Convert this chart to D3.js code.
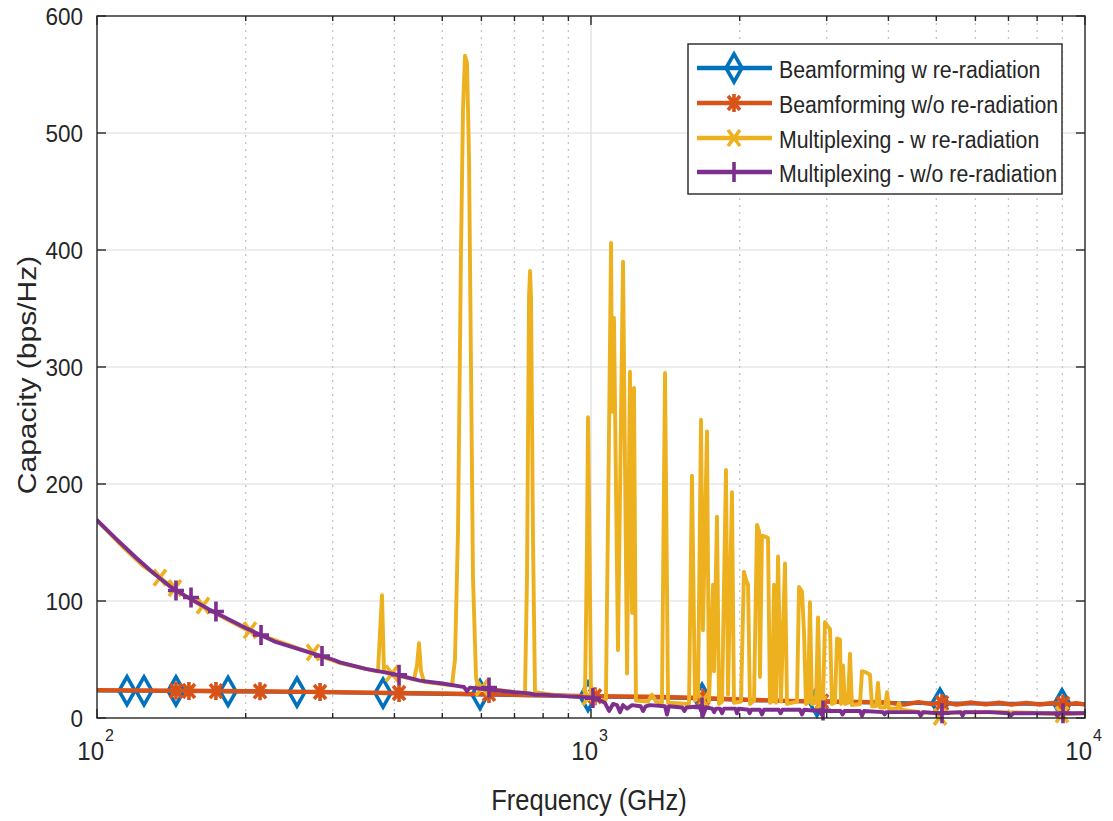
<!DOCTYPE html>
<html><head><meta charset="utf-8">
<script src="https://cdn.jsdelivr.net/npm/d3@7"></script>
<style>body{margin:0;background:#fff}text{font-family:"Liberation Sans",Arial,sans-serif;fill:#262626}</style>
</head><body>
<svg id="c" width="1113" height="821"></svg>
<script>
// ---------- data ----------
const seriesNames = ["Beamforming w re-radiation","Beamforming w/o re-radiation","Multiplexing - w re-radiation","Multiplexing - w/o re-radiation"];
const seriesColors = ["#0072BD","#D95319","#EDB120","#7E2F8E"];
const yTicks = [0,100,200,300,400,500,600];
const xMajorTicks = [100,1000,10000];
const xTickExponents = ["2","3","4"];
const xMinorTicks = [200,300,400,500,600,700,800,900,2000,3000,4000,5000,6000,7000,8000,9000];

// [frequency (GHz), capacity (bps/Hz)]
const beamWith = [[100,23.4],[150,23.0],[200,22.6],[300,21.9],[400,21.2],[600,20.0],[800,19.2],[1000,18.4],[1500,17.3],[2000,15.6],[2500,14.4],[3000,13.9],[4000,12.9],[5000,12.5],[7000,12.2],[10000,11.9]];
const beamWithMarkers = [[115.0,23.3],[124.5,23.2],[144.5,23.1],[184.2,22.7],[254.0,22.2],[379.3,21.3],[596.2,20.0],[986.2,18.4],[1678,16.8],[2867,14.0],[5087,12.6],[8984,12.0]];

const beamWithout = [[100,23.8],[150,23.3],[200,22.9],[300,22.1],[400,21.4],[500,20.9],[700,19.9],[1000,18.7],[1300,18.1],[1600,17.4],[2000,15.8],[2500,14.6],[3000,14.1],[3700,13.6],[4000,13.2],[4300,11.4],[4600,13.6],[4900,11.8],[5200,13.4],[5500,11.5],[5900,13.2],[6300,11.6],[6700,13.0],[7100,11.4],[7600,12.9],[8100,11.5],[8600,12.8],[9200,11.6],[9600,12.6],[10000,11.5]];
const beamWithoutMarkers = [[144.5,23.2],[153.5,23.1],[174.1,23.0],[213.8,22.8],[282.8,22.2],[408.7,21.4],[621.6,20.6],[1019,18.6],[1685,17.2],[2935,14.1],[5135,12.8],[9026,12.2]];

const multiWith = [[100,169],[112.9,146],[123.9,130],[134.1,120],[143.8,110],[163.9,95],[204.0,74],[273.7,55],[310.4,47],[367.1,40],[370.5,40],[377.5,105],[381.0,40],[395.5,37],[438.3,33],[444.4,45],[448.6,64],[452.8,40],[459.2,31],[523.2,28],[530.5,50],[538.0,160],[545.6,400],[550.7,520],[555.8,566],[561.0,560],[566.3,480],[571.6,300],[576.9,120],[585.1,35],[590.6,26],[624.5,25],[735.2,21],[742.1,120],[749.1,360],[752.6,382],[756.1,360],[763.2,150],[770.3,22],[865.4,19],[972.5,18],[981.6,150],[986.2,257],[993.1,150],[1000,18],[1028,16],[1062,15],[1072,16],[1088,250],[1098,406],[1103,262],[1113,342],[1134,58],[1161,390],[1183,38],[1199,296],[1211,90],[1222,282],[1233,15],[1304,14],[1329,20],[1354,14],[1392,13],[1412,295],[1432,13],[1579,12],[1601,207],[1624,15],[1647,20],[1670,255],[1685,75],[1717,245],[1733,14],[1749,60],[1766,114],[1774,40],[1799,172],[1816,12],[1842,14],[1876,212],[1894,20],[1929,193],[1947,13],[2012,14],[2040,125],[2060,118],[2079,114],[2098,12],[2138,15],[2168,165],[2188,160],[2198,35],[2219,156],[2250,155],[2282,154],[2303,13],[2325,14],[2347,114],[2369,13],[2391,138],[2424,14],[2470,132],[2493,12],[2612,14],[2637,112],[2674,108],[2699,73],[2724,12],[2750,13],[2775,99],[2801,12],[2854,13],[2881,86],[2908,12],[2949,13],[2976,82],[3018,78],[3047,76],[3075,12],[3118,13],[3148,68],[3192,67],[3207,12],[3237,45],[3267,12],[3313,13],[3344,55],[3375,11],[3504,12],[3537,40],[3603,39],[3671,37],[3705,10],[3775,10],[3810,30],[3846,9],[3937,9],[3974,22],[4011,8],[4163,8],[4202,13],[4242,7],[4635,5],[5000,4],[5087,1],[5200,4.5],[6729,5],[7739,4.5],[8984,3],[10000,4.5]];
const multiWithMarkers = [[134.1,120],[143.8,111],[163.9,96],[204.0,75],[273.7,56],[395.5,38],[601.7,26],[990,18],[1685,15],[2908,12],[5087,1],[8984,3]];

const multiWithout = [[100,169],[110,152],[120,137],[130,124],[140,113],[150,105],[170,92],[200,77],[230,65],[260,58],[300,50],[310.4,47.5],[350,42],[400,37.5],[450,32],[500,29.5],[543.0,27],[553.2,26.5],[561.0,23],[568.9,26],[600,25],[700,22],[752.6,21],[770.3,20],[800,20],[900,18.5],[1000,17.5],[1043,15],[1067,13],[1088,6],[1108,12],[1129,11],[1145,5],[1161,11],[1183,8],[1211,11],[1260,10],[1275,6],[1290,10],[1317,11],[1412,10],[1425,3],[1438,10],[1530,9],[1545,6],[1560,9],[1662,10],[1685,2],[1709,9],[1760,8],[1775,5],[1790,8],[1824,8],[1842,4],[1859,8],[1960,8],[1975,4],[1990,8],[2080,7],[2095,4],[2110,7],[2198,7],[2219,3],[2240,7],[2400,7],[2420,4],[2440,7],[2649,7],[2674,3],[2699,7],[2900,6],[2930,3],[2960,6],[3200,6],[3230,3],[3260,6],[3504,6],[3537,2],[3570,6],[3900,5],[3930,3],[3960,5],[4242,5],[4600,5],[4650,2],[4700,5],[5087,4],[5600,5],[5650,2],[5700,5],[6422,5],[7000,4],[7080,2],[7160,4],[8108,4],[8700,4],[8790,2],[8880,4],[10000,4]];
const multiWithoutMarkers = [[144.5,109],[155.0,103],[174.1,91],[214.8,71],[285.4,53],[408.7,37],[621.6,26],[1009,17],[1678,9],[2949,6.5],[5135,4],[9026,4]];

const allLines = [beamWith, beamWithout, multiWith, multiWithout];
const allMarkers = [beamWithMarkers, beamWithoutMarkers, multiWithMarkers, multiWithoutMarkers];
const markerTypes = ["diamond","asterisk","cross","plus"];

// ---------- layout ----------
const L = 97, R = 1085, T = 16, B = 718;
const svg = d3.select("#c");
const x = d3.scaleLog().domain([100,10000]).range([L,R]);
const y = d3.scaleLinear().domain([0,600]).range([B,T]);
const axisColor = "#262626";

function txt(g, px, py, s, size, anchor, rot, sx, sy) {
  return g.append("text")
    .attr("transform", `translate(${px},${py}) rotate(${rot||0}) scale(${sx||1},${sy||1})`)
    .attr("text-anchor", anchor).attr("dominant-baseline","central")
    .style("font-size", size + "px").text(s);
}

// grid
const grid = svg.append("g");
grid.selectAll(".hg").data(yTicks.filter(d => d>0 && d<600)).enter().append("line")
  .attr("x1",L).attr("x2",R).attr("y1",d=>y(d)).attr("y2",d=>y(d))
  .attr("stroke","#dcdcdc").attr("stroke-width",1.2);
grid.selectAll(".vg").data([1000]).enter().append("line")
  .attr("x1",d=>x(d)).attr("x2",d=>x(d)).attr("y1",T).attr("y2",B)
  .attr("stroke","#dcdcdc").attr("stroke-width",1.2);
grid.selectAll(".vm").data(xMinorTicks).enter().append("line")
  .attr("x1",d=>x(d)).attr("x2",d=>x(d)).attr("y1",T).attr("y2",B)
  .attr("stroke","#c4c4c4").attr("stroke-width",1.3).attr("stroke-dasharray","2,5");

// clip
svg.append("clipPath").attr("id","clip").append("rect").attr("x",L).attr("y",T).attr("width",R-L).attr("height",B-T+6);

function markerPath(type){
  switch(type){
    case "diamond": return "M0,-14L8,0L0,14L-8,0Z";
    case "asterisk": return "M0,-9L0,9M-8,0L8,0M-6,-7L6,7M-6,7L6,-7";
    case "cross": return "M-6,-8L6,8M-6,8L6,-8";
    case "plus": return "M0,-10L0,10M-8,0L8,0";
  }
}

const line = d3.line().x(d=>x(d[0])).y(d=>y(d[1]));
allLines.forEach((data,i) => {
  const g = svg.append("g");
  g.append("path").datum(data).attr("d",line).attr("clip-path","url(#clip)")
    .attr("fill","none").attr("stroke",seriesColors[i]).attr("stroke-width",i===1?4.4:3.9)
    .attr("stroke-linejoin","round").attr("stroke-linecap","round");
  g.selectAll(".m").data(allMarkers[i]).enter().append("path")
    .attr("transform",d=>`translate(${x(d[0])},${y(d[1])})`)
    .attr("d",markerPath(markerTypes[i])).attr("fill","none")
    .attr("stroke",seriesColors[i]).attr("stroke-width",3.6).attr("stroke-linejoin","miter");
});

// axes box and ticks
const ax = svg.append("g").attr("stroke",axisColor).attr("stroke-width",1.4);
ax.append("rect").attr("x",L).attr("y",T).attr("width",R-L).attr("height",B-T).attr("fill","none");
yTicks.forEach(t => {
  ax.append("line").attr("x1",L).attr("x2",L+9).attr("y1",y(t)).attr("y2",y(t));
  ax.append("line").attr("x1",R).attr("x2",R-9).attr("y1",y(t)).attr("y2",y(t));
});
xMajorTicks.forEach(t => {
  ax.append("line").attr("x1",x(t)).attr("x2",x(t)).attr("y1",B).attr("y2",B-9);
  ax.append("line").attr("x1",x(t)).attr("x2",x(t)).attr("y1",T).attr("y2",T+9);
});
xMinorTicks.forEach(t => {
  ax.append("line").attr("x1",x(t)).attr("x2",x(t)).attr("y1",B).attr("y2",B-5);
  ax.append("line").attr("x1",x(t)).attr("x2",x(t)).attr("y1",T).attr("y2",T+5);
});

// tick labels
const lab = svg.append("g");
yTicks.forEach(t => txt(lab, 83, y(t)+1, String(t), 22.5, "end", 0, 1, 1.08));
xMajorTicks.forEach((t,i) => {
  txt(lab, x(t)+7, 751, "10", 24, "end", 0, 1, 1.08);
  txt(lab, x(t)+8, 735, xTickExponents[i], 16, "start", 0, 1, 1.08);
});
txt(lab, 589, 800, "Frequency (GHz)", 25.5, "middle", 0, 1, 1.18);
txt(lab, 27, 375, "Capacity (bps/Hz)", 25, "middle", -90, 1.2, 1);

// legend
const lg = svg.append("g");
lg.append("rect").attr("x",688).attr("y",44).attr("width",374).attr("height",150)
  .attr("fill","#fff").attr("stroke",axisColor).attr("stroke-width",1.4);
const legY = [68,103,138,172];
seriesNames.forEach((n,i) => {
  lg.append("line").attr("x1",697).attr("x2",772).attr("y1",legY[i]).attr("y2",legY[i])
    .attr("stroke",seriesColors[i]).attr("stroke-width",4.6);
  lg.append("path").attr("transform",`translate(734,${legY[i]})`).attr("d",markerPath(markerTypes[i]))
    .attr("fill","none").attr("stroke",seriesColors[i]).attr("stroke-width",3.6);
  txt(lg, 779, legY[i]+1, n, 21.3, "start", 0, 1, 1.15);
});
</script>
</body></html>
